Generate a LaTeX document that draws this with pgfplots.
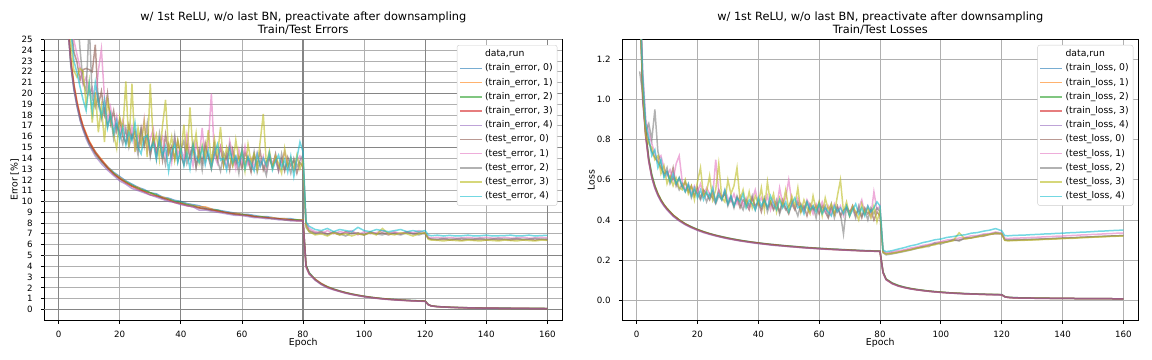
\documentclass[border=0pt]{standalone}
\usepackage{fontspec}
\setmainfont{DejaVu Sans}
\usepackage{pgfplots}
\usepackage{pgfplotstable}
\pgfplotsset{compat=1.18}
\definecolor{c0}{HTML}{1F77B4}
\definecolor{c1}{HTML}{FF7F0E}
\definecolor{c2}{HTML}{2CA02C}
\definecolor{c3}{HTML}{D62728}
\definecolor{c4}{HTML}{9467BD}
\definecolor{c5}{HTML}{8C564B}
\definecolor{c6}{HTML}{E377C2}
\definecolor{c7}{HTML}{7F7F7F}
\definecolor{c8}{HTML}{BCBD22}
\definecolor{c9}{HTML}{17BECF}
\definecolor{gridlight}{HTML}{B0B0B0}
\definecolor{griddark}{HTML}{858585}

\pgfplotstableread{
ep r0 r1 r2 r3 r4
1 46 45 47 46 45.5
2 33 33.5 32.5 33.2 32.8
3 26.6 26.2 26.9 26.4 26.1
4 22.8 23.1 22.6 22.9 22.5
5 20.6 20.9 20.4 20.7 20.3
6 19.0 19.3 18.9 19.1 18.8
7 17.8 18.0 17.6 17.9 17.5
8 16.9 17.0 16.7 16.9 16.6
9 16.1 16.3 16.0 16.2 15.8
10 15.5 15.6 15.3 15.5 15.2
12 14.6 14.6 14.4 14.5 14.2
14 13.8 13.9 13.7 13.8 13.5
16 13.2 13.2 13.1 13.1 12.9
18 12.7 12.6 12.6 12.5 12.4
20 12.3 12.2 12.1 12.1 11.9
22 11.9 11.8 11.8 11.7 11.6
24 11.6 11.4 11.5 11.4 11.2
26 11.3 11.3 11.2 11.1 11.0
28 11.1 10.9 11.0 10.9 10.8
30 10.8 10.8 10.8 10.6 10.6
32 10.7 10.5 10.6 10.5 10.4
34 10.4 10.4 10.3 10.3 10.2
36 10.3 10.2 10.2 10.1 10.0
38 10.1 9.9 10.0 9.9 9.9
40 10.0 9.8 9.9 9.8 9.7
42 9.8 9.7 9.7 9.6 9.6
44 9.7 9.6 9.6 9.5 9.5
46 9.6 9.5 9.4 9.4 9.2
48 9.4 9.5 9.3 9.3 9.2
50 9.3 9.3 9.2 9.2 9.1
52 9.2 9.1 9.2 9.1 9.0
54 9.1 9.0 9.0 9.0 8.9
56 9.0 8.9 8.9 8.9 8.8
58 8.9 8.9 8.8 8.8 8.7
60 8.8 8.8 8.8 8.7 8.7
62 8.8 8.7 8.7 8.7 8.6
64 8.7 8.6 8.6 8.6 8.5
66 8.6 8.6 8.6 8.5 8.5
68 8.6 8.5 8.5 8.5 8.4
70 8.5 8.5 8.4 8.4 8.4
72 8.4 8.4 8.4 8.4 8.3
74 8.4 8.4 8.3 8.3 8.3
76 8.4 8.3 8.3 8.3 8.2
78 8.3 8.3 8.3 8.2 8.2
80 8.3 8.3 8.2 8.2 8.2
81 4.1 4.0 4.1 4.0 3.9
82 3.4 3.35 3.4 3.3 3.3
84 2.8 2.8 2.75 2.75 2.7
86 2.4 2.4 2.35 2.35 2.3
88 2.1 2.1 2.1 2.05 2.0
90 1.9 1.88 1.88 1.85 1.82
92 1.72 1.7 1.71 1.68 1.66
94 1.56 1.55 1.56 1.53 1.5
96 1.43 1.42 1.43 1.4 1.38
98 1.32 1.31 1.32 1.3 1.27
100 1.22 1.21 1.22 1.2 1.18
102 1.14 1.13 1.14 1.12 1.1
104 1.07 1.06 1.07 1.05 1.03
106 1.01 1.0 1.01 0.99 0.97
108 0.96 0.95 0.96 0.94 0.92
110 0.92 0.91 0.92 0.9 0.88
112 0.88 0.87 0.88 0.86 0.85
114 0.85 0.84 0.85 0.83 0.82
116 0.82 0.81 0.82 0.8 0.79
118 0.8 0.79 0.8 0.78 0.77
120 0.78 0.77 0.78 0.76 0.75
121 0.46 0.45 0.46 0.44 0.44
122 0.34 0.33 0.34 0.33 0.32
124 0.27 0.27 0.27 0.26 0.26
126 0.24 0.23 0.24 0.23 0.23
128 0.21 0.21 0.21 0.2 0.2
130 0.19 0.19 0.19 0.18 0.18
134 0.16 0.16 0.16 0.15 0.15
138 0.14 0.14 0.14 0.13 0.13
142 0.13 0.12 0.13 0.12 0.12
146 0.12 0.11 0.12 0.11 0.11
150 0.11 0.1 0.11 0.1 0.1
155 0.1 0.1 0.1 0.09 0.09
160 0.09 0.09 0.09 0.09 0.09
}\errtrain

\pgfplotstableread{
ep r0 r1 r2 r3 r4
1 47.5 49.2 44.8 51.0 46.3
2 36.1 34.8 37.5 35.2 33.9
3 29.5 28.2 31.0 27.8 29.1
4 26.4 25.3 27.9 24.6 25.8
5 23.8 24.9 26.5 22.1 23.0
6 22.9 23.6 27.8 21.5 21.9
7 21.2 22.4 24.1 22.3 20.6
8 22.2 20.8 21.0 22.0 19.4
9 22.3 21.5 20.2 18.9 18.4
10 22.2 19.9 26.5 21.1 20.9
11 22.0 20.5 19.6 17.3 18.3
12 24.5 19.2 18.7 20.1 21.0
13 18.9 22.1 19.8 16.4 19.2
14 20.2 24.1 17.6 18.8 17.9
15 18.1 19.6 18.5 15.5 19.4
16 20.0 17.4 16.9 19.3 16.8
17 17.2 18.7 18.0 17.9 18.1
18 18.4 16.6 15.8 16.2 16.3
19 16.5 17.9 17.1 14.9 17.5
20 17.6 16.2 16.4 17.8 15.7
21 16.0 17.5 15.3 16.6 16.9
22 15.4 16.3 16.8 21.1 15.2
23 17.1 15.5 15.0 15.0 16.4
24 15.8 16.9 16.2 20.9 15.6
25 16.5 14.8 15.7 14.6 17.3
26 14.9 16.1 14.3 16.8 15.0
27 16.8 15.3 16.6 15.2 14.4
28 15.2 17.6 15.1 17.4 15.9
29 16.1 14.6 17.2 14.1 16.1
30 14.3 15.8 14.2 20.9 14.8
31 15.9 16.7 15.9 15.3 15.4
32 14.6 14.2 13.9 16.2 13.9
33 15.5 15.4 16.3 13.9 15.7
34 13.8 16.0 14.7 17.0 14.2
35 16.2 14.1 13.4 19.4 15.1
36 14.4 15.2 15.2 14.6 12.8
37 15.1 13.6 14.0 16.0 14.6
38 13.9 15.8 16.1 13.8 15.3
39 15.6 14.4 13.7 15.7 13.6
40 14.2 15.0 14.8 14.3 14.9
41 13.4 13.9 15.6 17.1 13.3
42 15.3 16.2 13.5 14.0 14.5
43 14.0 14.6 14.3 18.7 13.0
44 15.1 13.3 15.4 14.5 15.2
45 13.2 15.4 13.1 16.3 14.1
46 14.8 14.0 14.6 13.6 13.6
47 13.6 16.8 12.9 15.2 15.0
48 15.4 13.7 15.0 14.0 13.4
49 14.1 15.3 14.2 16.6 14.7
50 13.0 20.0 13.6 13.5 13.1
51 14.6 14.2 15.3 15.8 14.4
52 13.9 13.5 13.8 14.2 15.3
53 15.0 15.1 12.8 16.9 13.8
54 13.3 14.0 14.5 13.4 14.0
55 14.4 13.2 13.9 15.0 12.9
56 12.9 15.6 15.2 14.1 14.8
57 14.8 14.3 13.3 13.3 13.6
58 13.5 13.0 14.1 15.7 14.2
59 14.2 14.8 12.6 13.8 13.3
60 13.1 13.6 14.9 14.6 14.6
61 14.5 15.1 13.4 12.8 13.0
62 13.8 13.4 14.2 15.3 14.1
63 12.7 14.0 13.0 13.6 13.5
64 14.3 13.1 14.6 14.4 12.8
65 13.4 14.5 12.7 13.0 14.4
66 14.6 13.3 13.8 15.6 13.2
67 12.9 14.2 13.3 18.1 14.0
68 13.7 12.9 12.4 13.4 13.3
69 14.0 14.4 14.1 14.7 14.5
70 13.2 13.5 13.2 13.1 12.9
71 14.4 14.1 13.9 14.2 13.7
72 13.0 12.8 12.8 13.5 14.3
73 13.9 13.7 14.4 12.6 13.1
74 12.8 14.6 13.0 14.9 13.9
75 14.1 13.2 13.6 13.2 12.7
76 13.3 14.0 12.6 14.0 14.2
77 13.8 12.9 14.0 12.9 12.3
78 12.6 13.8 13.2 14.3 14.0
79 13.6 14.2 13.8 13.0 15.5
80 13.2 13.5 14.3 13.8 14.6
81 8.0 7.9 7.6 7.7 8.1
82 7.3 7.5 7.2 7.2 7.7
84 7.1 7.2 7.0 6.9 7.4
86 7.2 7.0 7.1 7.0 7.3
88 7.0 7.3 6.9 6.8 7.5
90 7.1 7.0 7.2 7.1 7.2
92 6.9 7.2 7.0 6.9 7.4
94 7.2 7.1 6.8 7.0 7.3
96 7.0 7.3 7.1 6.8 7.2
98 7.1 6.9 7.0 7.0 7.6
100 6.9 7.2 6.9 6.9 7.3
102 7.2 7.0 7.1 7.1 7.2
104 7.0 7.1 7.0 6.9 7.4
106 7.1 7.3 6.9 7.5 7.3
108 6.9 7.0 7.1 7.0 7.2
110 7.1 7.2 7.0 6.9 7.3
112 7.0 7.0 6.9 7.1 7.4
114 7.2 7.2 7.1 7.0 7.2
116 7.0 7.1 7.0 6.8 7.3
118 7.1 7.3 6.9 7.0 7.2
120 7.0 7.1 7.1 7.1 7.3
121 6.60 6.70 6.60 6.50 6.90
122 6.50 6.62 6.52 6.42 6.82
124 6.44 6.68 6.50 6.40 6.88
126 6.50 6.60 6.58 6.34 6.80
128 6.42 6.66 6.50 6.42 6.86
130 6.48 6.60 6.52 6.38 6.80
132 6.42 6.62 6.58 6.34 6.82
134 6.50 6.68 6.50 6.42 6.88
136 6.44 6.60 6.52 6.38 6.80
138 6.48 6.62 6.58 6.34 6.82
140 6.42 6.68 6.50 6.42 6.88
142 6.50 6.60 6.52 6.38 6.80
144 6.44 6.62 6.58 6.34 6.82
146 6.48 6.68 6.50 6.42 6.84
148 6.42 6.60 6.52 6.38 6.88
150 6.50 6.62 6.58 6.34 6.80
152 6.44 6.68 6.50 6.42 6.82
154 6.48 6.60 6.52 6.38 6.88
156 6.42 6.62 6.58 6.34 6.80
158 6.50 6.68 6.50 6.42 6.84
160 6.44 6.62 6.52 6.40 6.86
}\errtest

\pgfplotstableread{
ep r0 r1 r2 r3 r4
1 1.62 1.60 1.65 1.61 1.58
2 1.03 1.02 1.04 1.01 1.00
3 .830 .822 .838 .818 .812
4 .702 .698 .708 .693 .690
5 .620 .618 .626 .612 .609
6 .566 .569 .571 .561 .558
7 .528 .531 .530 .524 .521
8 .498 .500 .501 .495 .492
9 .475 .477 .476 .472 .469
10 .456 .457 .457 .453 .450
12 .424 .425 .424 .421 .418
14 .400 .401 .400 .397 .395
16 .381 .381 .380 .378 .376
18 .366 .365 .365 .363 .361
20 .353 .352 .352 .350 .348
22 .342 .341 .341 .339 .337
24 .332 .331 .332 .330 .328
26 .324 .323 .323 .322 .320
28 .317 .316 .316 .314 .313
30 .310 .309 .310 .308 .306
32 .304 .303 .304 .302 .301
34 .299 .298 .298 .297 .295
36 .294 .293 .294 .292 .291
38 .290 .289 .289 .288 .286
40 .286 .285 .285 .284 .282
42 .282 .281 .282 .280 .279
44 .279 .278 .278 .277 .275
46 .276 .275 .275 .274 .272
48 .273 .272 .272 .271 .270
50 .270 .269 .270 .268 .267
52 .268 .267 .267 .266 .265
54 .265 .264 .265 .263 .262
56 .263 .262 .262 .261 .260
58 .261 .260 .260 .259 .258
60 .259 .258 .258 .257 .256
62 .257 .256 .257 .255 .254
64 .255 .254 .255 .253 .253
66 .254 .253 .253 .252 .251
68 .252 .251 .252 .250 .250
70 .251 .250 .250 .249 .248
72 .249 .248 .249 .248 .247
74 .248 .247 .247 .246 .246
76 .247 .246 .246 .245 .245
78 .246 .245 .245 .244 .244
80 .245 .244 .244 .243 .243
81 .140 .138 .141 .137 .136
82 .105 .104 .106 .103 .102
84 .085 .084 .086 .083 .082
86 .073 .072 .074 .071 .070
88 .065 .064 .065 .063 .063
90 .058 .058 .059 .057 .056
92 .053 .053 .054 .052 .052
94 .049 .049 .050 .048 .048
96 .046 .045 .046 .045 .044
98 .043 .042 .043 .042 .041
100 .040 .040 .041 .039 .039
102 .038 .038 .038 .037 .037
104 .036 .036 .036 .035 .035
106 .034 .034 .035 .034 .033
108 .033 .033 .033 .032 .032
110 .032 .031 .032 .031 .031
112 .031 .030 .031 .030 .030
114 .030 .029 .030 .029 .029
116 .029 .029 .029 .028 .028
118 .028 .028 .029 .028 .027
120 .028 .027 .028 .027 .027
121 .018 .018 .018 .017 .017
122 .014 .014 .015 .014 .014
124 .013 .012 .013 .012 .012
126 .012 .011 .012 .011 .011
130 .011 .010 .011 .010 .010
135 .010 .010 .010 .009 .009
140 .009 .009 .009 .009 .009
150 .008 .008 .008 .008 .008
160 .007 .007 .007 .007 .007
}\losstrain

\pgfplotstableread{
ep r0 r1 r2 r3 r4
1 1.52 1.61 1.14 1.48 1.55
2 1.08 1.15 1.03 1.06 1.12
3 0.86 0.90 0.84 0.82 0.88
4 0.79 0.84 0.88 0.78 0.81
5 0.74 0.78 0.80 0.76 0.72
6 0.71 0.73 0.95 0.70 0.75
7 0.69 0.70 0.74 0.72 0.66
8 0.66 0.72 0.68 0.63 0.70
9 0.63 0.66 0.62 0.67 0.61
10 0.64 0.62 0.66 0.58 0.64
11 0.60 0.65 0.58 0.62 0.59
12 0.66 0.60 0.61 0.57 0.63
13 0.57 0.68 0.59 0.61 0.58
14 0.61 0.72 0.55 0.56 0.61
15 0.56 0.59 0.58 0.55 0.57
16 0.59 0.55 0.54 0.60 0.54
17 0.54 0.58 0.57 0.53 0.58
18 0.57 0.53 0.51 0.57 0.52
19 0.52 0.57 0.55 0.50 0.56
20 0.56 0.54 0.53 0.59 0.51
21 0.51 0.58 0.50 0.66 0.55
22 0.55 0.52 0.54 0.52 0.50
23 0.53 0.56 0.49 0.54 0.54
24 0.50 0.53 0.53 0.62 0.51
25 0.54 0.51 0.51 0.50 0.56
26 0.49 0.70 0.48 0.55 0.49
27 0.55 0.54 0.52 0.68 0.53
28 0.51 0.50 0.50 0.51 0.50
29 0.53 0.55 0.54 0.49 0.55
30 0.48 0.51 0.47 0.60 0.48
31 0.52 0.49 0.51 0.53 0.52
32 0.47 0.53 0.46 0.57 0.47
33 0.51 0.48 0.52 0.66 0.51
34 0.46 0.52 0.48 0.50 0.49
35 0.50 0.47 0.45 0.55 0.53
36 0.48 0.51 0.50 0.47 0.46
37 0.45 0.46 0.47 0.54 0.50
38 0.51 0.50 0.52 0.46 0.48
39 0.47 0.55 0.45 0.52 0.45
40 0.49 0.48 0.49 0.48 0.51
41 0.44 0.51 0.46 0.56 0.47
42 0.50 0.47 0.51 0.45 0.50
43 0.46 0.52 0.44 0.59 0.46
44 0.49 0.45 0.49 0.48 0.52
45 0.45 0.50 0.46 0.53 0.48
46 0.48 0.46 0.50 0.44 0.45
47 0.44 0.56 0.43 0.51 0.50
48 0.50 0.48 0.48 0.47 0.46
49 0.46 0.51 0.45 0.55 0.49
50 0.43 0.60 0.47 0.45 0.44
51 0.48 0.49 0.50 0.52 0.48
52 0.45 0.46 0.46 0.47 0.51
53 0.49 0.51 0.42 0.56 0.46
54 0.44 0.47 0.48 0.44 0.47
55 0.47 0.44 0.45 0.50 0.43
56 0.42 0.50 0.49 0.46 0.49
57 0.48 0.47 0.44 0.43 0.45
58 0.45 0.43 0.47 0.52 0.47
59 0.47 0.48 0.41 0.45 0.44
60 0.43 0.45 0.49 0.49 0.48
61 0.47 0.49 0.44 0.42 0.43
62 0.44 0.44 0.47 0.51 0.46
63 0.41 0.47 0.42 0.45 0.44
64 0.46 0.43 0.48 0.48 0.42
65 0.43 0.48 0.41 0.43 0.47
66 0.47 0.44 0.46 0.52 0.44
67 0.42 0.47 0.43 0.60 0.46
68 0.45 0.42 0.33 0.44 0.43
69 0.46 0.46 0.47 0.49 0.47
70 0.42 0.44 0.44 0.42 0.42
71 0.47 0.47 0.46 0.47 0.45
72 0.43 0.42 0.41 0.44 0.48
73 0.45 0.46 0.47 0.40 0.43
74 0.41 0.50 0.42 0.48 0.46
75 0.46 0.43 0.45 0.43 0.42
76 0.43 0.47 0.40 0.46 0.47
77 0.45 0.42 0.46 0.41 0.44
78 0.40 0.54 0.43 0.47 0.46
79 0.44 0.45 0.46 0.39 0.49
80 0.42 0.47 0.44 0.45 0.47
81 .240 .245 .236 .238 .250
82 .232 .236 .226 .230 .242
84 .236 .241 .231 .233 .247
86 .240 .247 .237 .239 .255
88 .248 .251 .243 .245 .262
90 .253 .260 .250 .251 .271
92 .261 .265 .257 .259 .277
94 .265 .273 .268 .262 .287
96 .275 .278 .267 .272 .293
98 .279 .287 .285 .276 .301
100 .289 .292 .280 .286 .305
102 .291 .300 .291 .290 .313
104 .298 .303 .302 .296 .317
106 .300 .310 .295 .336 .323
108 .308 .313 .310 .304 .326
110 .310 .321 .312 .311 .334
112 .317 .322 .319 .315 .337
114 .319 .330 .325 .323 .344
116 .328 .332 .329 .327 .349
118 .331 .340 .336 .334 .357
120 .330 .335 .332 .331 .346
121 .300 .309 .302 .298 .322
122 .298 .307 .300 .296 .321
124 .299 .309 .301 .297 .323
126 .300 .310 .302 .298 .324
128 .301 .311 .303 .299 .325
130 .302 .313 .304 .300 .327
132 .303 .314 .305 .301 .328
134 .305 .316 .306 .303 .330
136 .306 .317 .307 .304 .331
138 .307 .319 .309 .305 .333
140 .309 .320 .310 .307 .334
142 .310 .322 .311 .308 .336
144 .311 .323 .312 .309 .337
146 .313 .325 .314 .311 .339
148 .314 .326 .315 .312 .340
150 .316 .328 .316 .314 .342
152 .317 .329 .318 .315 .344
154 .318 .331 .319 .316 .345
156 .320 .332 .320 .318 .347
158 .321 .334 .321 .319 .348
160 .322 .335 .322 .320 .350
}\losstest

\pgfplotsset{
  run/.style={line width=1.5bp, opacity=0.6, #1},
  common/.style={
    scale only axis, height=281bp,
    xmin=-4.7, xmax=164.9,
    xtick={0,20,...,160},
    tick pos=left, tick align=outside,
    major tick length=3.5bp,
    tick style={black, line width=0.8bp},
    axis line style={black, line width=0.8bp},
    /pgf/number format/assume math mode=true,
    ticklabel style={font=\fontsize{8.7}{10}\selectfont},
    xticklabel style={inner sep=0pt, anchor=north, yshift=-7bp},
    yticklabel style={inner sep=0pt, anchor=east, xshift=-8bp},
    xlabel={Epoch},
    xlabel style={font=\fontsize{9.4}{11}\selectfont, at={(axis description cs:0.5,-0.063)}, anchor=north, inner sep=0pt},
    ylabel style={font=\fontsize{9.4}{11}\selectfont, anchor=center, rotate=0},
    title style={align=center, at={(axis description cs:0.5,1)}, anchor=south, yshift=-1.7bp, inner sep=0pt, font=\fontsize{11.4}{13.3}\selectfont},
    legend cell align=left,
    legend image code/.code={\draw[##1] (0bp,0bp) -- (22bp,0bp);},
    legend style={at={(axis description cs:0.9903,0.9797)}, anchor=north east,
      draw=black!20, rounded corners=2bp, fill=white,
      font=\fontsize{9.3}{11}\selectfont,
      inner xsep=2bp, inner ysep=2bp, row sep=0pt,
      nodes={inner sep=2.4bp, text height=7bp, text depth=2.4bp}},
  }
}

\begin{document}
\begin{tikzpicture}
\path[use as bounding box] (0,0) rectangle (1152bp,360bp);

\begin{axis}[common,
  at={(44.3bp,39.7bp)}, anchor=south west, width=518bp,
  ymin=-1, ymax=25,
  ytick={0,1,...,25},
  grid=major,
  major grid style={gridlight, line width=0.8bp},
  extra x ticks={0,40,80,120,160}, extra x tick labels={},
  extra x tick style={grid=major, major tick length=0pt, major grid style={griddark, line width=1.2bp}},
  extra y ticks={0,5,10,15,20,25}, extra y tick labels={},
  extra y tick style={grid=major, major tick length=0pt, major grid style={griddark, line width=1.2bp}},
  ylabel={Error [\%]},
  ylabel style={at={(axis description cs:-0.057,0.5)}},
  title={w/ 1st ReLU, w/o last BN, preactivate after downsampling\\Train/Test Errors},
]
\addlegendimage{empty legend}
\addlegendentry{data,run}
\addplot[run=c0] table[x=ep,y=r0]{\errtrain}; \addlegendentry{(train\_error, 0)}
\addplot[run=c1] table[x=ep,y=r1]{\errtrain}; \addlegendentry{(train\_error, 1)}
\addplot[run=c2] table[x=ep,y=r2]{\errtrain}; \addlegendentry{(train\_error, 2)}
\addplot[run=c3] table[x=ep,y=r3]{\errtrain}; \addlegendentry{(train\_error, 3)}
\addplot[run=c4] table[x=ep,y=r4]{\errtrain}; \addlegendentry{(train\_error, 4)}
\addplot[run=c5] table[x=ep,y=r0]{\errtest}; \addlegendentry{(test\_error, 0)}
\addplot[run=c6] table[x=ep,y=r1]{\errtest}; \addlegendentry{(test\_error, 1)}
\addplot[run=c7] table[x=ep,y=r2]{\errtest}; \addlegendentry{(test\_error, 2)}
\addplot[run=c8] table[x=ep,y=r3]{\errtest}; \addlegendentry{(test\_error, 3)}
\addplot[run=c9] table[x=ep,y=r4]{\errtest}; \addlegendentry{(test\_error, 4)}
\end{axis}

\begin{axis}[common,
  at={(622.3bp,39.7bp)}, anchor=south west, width=516bp,
  ymin=-0.1, ymax=1.3,
  ytick={0,0.2,0.4,0.6,0.8,1.0,1.2},
  yticklabel style={/pgf/number format/.cd, fixed, fixed zerofill, precision=1},
  grid=major,
  major grid style={gridlight, line width=0.8bp},
  ylabel={Loss},
  ylabel style={at={(axis description cs:-0.060,0.5)}},
  title={w/ 1st ReLU, w/o last BN, preactivate after downsampling\\Train/Test Losses},
]
\addlegendimage{empty legend}
\addlegendentry{data,run}
\addplot[run=c0] table[x=ep,y=r0]{\losstrain}; \addlegendentry{(train\_loss, 0)}
\addplot[run=c1] table[x=ep,y=r1]{\losstrain}; \addlegendentry{(train\_loss, 1)}
\addplot[run=c2] table[x=ep,y=r2]{\losstrain}; \addlegendentry{(train\_loss, 2)}
\addplot[run=c3] table[x=ep,y=r3]{\losstrain}; \addlegendentry{(train\_loss, 3)}
\addplot[run=c4] table[x=ep,y=r4]{\losstrain}; \addlegendentry{(train\_loss, 4)}
\addplot[run=c5] table[x=ep,y=r0]{\losstest}; \addlegendentry{(test\_loss, 0)}
\addplot[run=c6] table[x=ep,y=r1]{\losstest}; \addlegendentry{(test\_loss, 1)}
\addplot[run=c7] table[x=ep,y=r2]{\losstest}; \addlegendentry{(test\_loss, 2)}
\addplot[run=c8] table[x=ep,y=r3]{\losstest}; \addlegendentry{(test\_loss, 3)}
\addplot[run=c9] table[x=ep,y=r4]{\losstest}; \addlegendentry{(test\_loss, 4)}
\end{axis}
\end{tikzpicture}
\end{document}
